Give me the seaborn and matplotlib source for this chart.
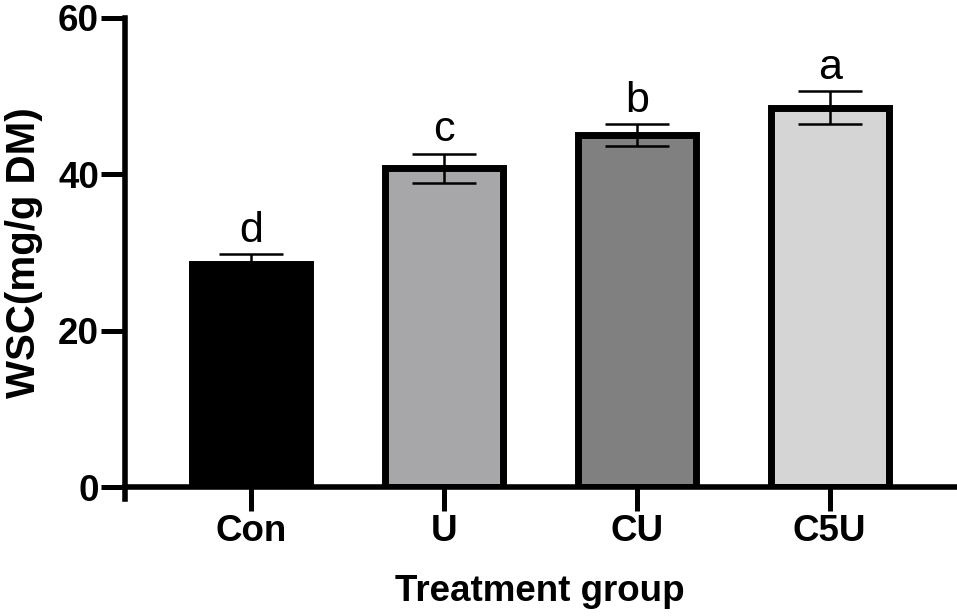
import matplotlib
matplotlib.use("Agg")
import matplotlib.pyplot as plt
import seaborn as sns
import pandas as pd

# data
groups = ["Con", "U", "CU", "C5U"]
wsc_mean = [28.6, 40.8, 45.0, 48.5]
wsc_sd = [1.2, 1.85, 1.4, 2.1]
sig_letters = ["d", "c", "b", "a"]
bar_colors = ["#000000", "#A6A6AB", "#808080", "#D5D5D5"]

df = pd.DataFrame({"group": groups, "wsc": wsc_mean})

sns.set_style("ticks")
plt.rcParams["font.family"] = ["Liberation Sans", "DejaVu Sans"]
plt.rcParams["text.color"] = "black"
plt.rcParams["axes.labelcolor"] = "black"
plt.rcParams["axes.edgecolor"] = "black"
plt.rcParams["xtick.color"] = "black"
plt.rcParams["ytick.color"] = "black"

fig, ax = plt.subplots(figsize=(9.57, 6.16), dpi=100)
fig.subplots_adjust(left=0.131, right=0.998, bottom=0.209, top=0.971)

sns.barplot(data=df, x="group", y="wsc", hue="group", palette=bar_colors,
            order=groups, hue_order=groups, legend=False, errorbar=None,
            width=0.61, edgecolor="black", linewidth=5, ax=ax)

# error bars (mean +/- sd)
ax.errorbar(range(len(groups)), wsc_mean, yerr=wsc_sd, fmt="none",
            ecolor="black", elinewidth=1.8, capsize=23, capthick=1.8, zorder=5)

# significance letters
for i, (m, s, lab) in enumerate(zip(wsc_mean, wsc_sd, sig_letters)):
    ax.annotate(lab, (i, m + s), xytext=(0, 9), textcoords="offset points",
                ha="center", va="baseline", fontsize=31)

ax.set_ylim(0, 60)
ax.set_xlim(-0.65, 3.65)
ax.set_yticks([0, 20, 40, 60])
ax.set_xlabel("Treatment group", fontsize=26.5, fontweight="bold", labelpad=18)
ax.set_ylabel("WSC(mg/g DM)", fontsize=29, fontweight="bold", labelpad=11)

for lab in ax.get_xticklabels() + ax.get_yticklabels():
    lab.set_fontweight("bold")
ax.tick_params(axis="both", labelsize=26.5, width=3.6, length=17, pad=2)

sns.despine(ax=ax)
ax.spines["left"].set_linewidth(4)
ax.spines["bottom"].set_linewidth(4)
ax.spines["left"].set_bounds(-1.5, 60)

fig.savefig("out.png", dpi=100)
